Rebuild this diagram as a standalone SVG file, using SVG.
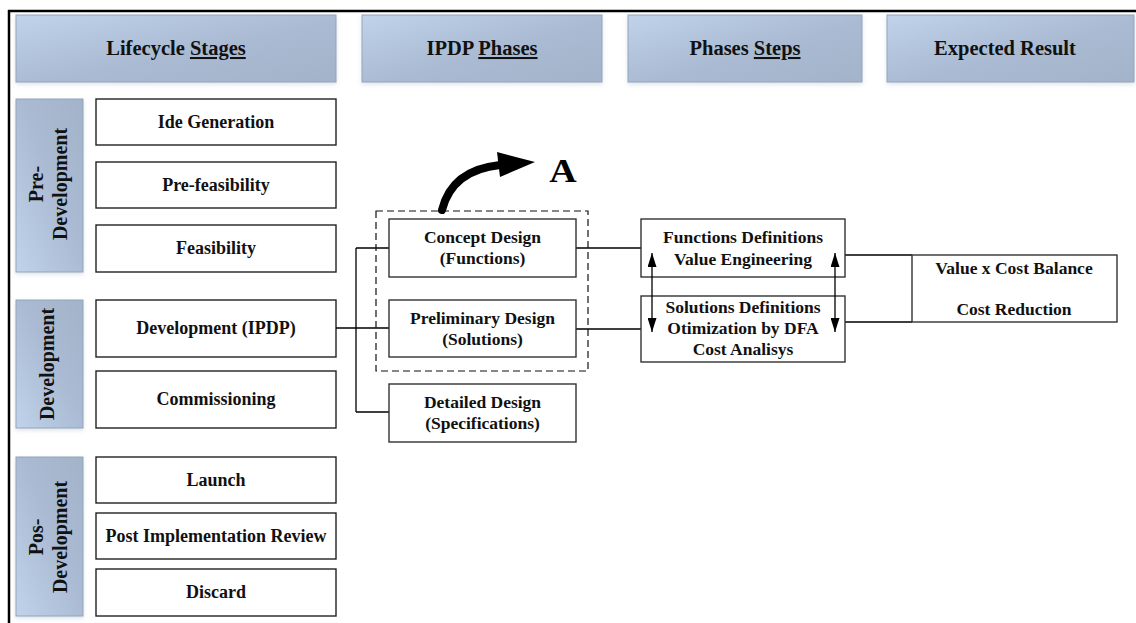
<svg xmlns="http://www.w3.org/2000/svg" width="1136" height="623" viewBox="0 0 1136 623">
  <defs>
    <linearGradient id="hdrFill" x1="0" y1="0" x2="1" y2="1">
      <stop offset="0" stop-color="#c0d3eb"/>
      <stop offset="0.55" stop-color="#a9bad2"/>
      <stop offset="1" stop-color="#a2b3ca"/>
    </linearGradient>
    <linearGradient id="sideFill" x1="0" y1="1" x2="1" y2="0">
      <stop offset="0" stop-color="#c0d3eb"/>
      <stop offset="0.55" stop-color="#a9bad2"/>
      <stop offset="1" stop-color="#a2b3ca"/>
    </linearGradient>
    <filter id="soft" x="-5%" y="-10%" width="110%" height="130%">
      <feDropShadow dx="0" dy="2" stdDeviation="2" flood-color="#7a8fb0" flood-opacity="0.25"/>
    </filter>
    <marker id="tri" viewBox="0 0 10 10" preserveAspectRatio="none" refX="10" refY="5" markerWidth="14" markerHeight="9" markerUnits="userSpaceOnUse" orient="auto-start-reverse">
      <path d="M0,0 L10,5 L0,10 Z" fill="#000"/>
    </marker>
  </defs>
  <style>
    text { font-family: "Liberation Serif", "Times New Roman", serif; font-weight: bold; fill: #111; text-anchor: middle; }
    .hdr { fill: url(#hdrFill); stroke: #93a5bd; stroke-width: 1; filter: url(#soft); }
    .side { fill: url(#sideFill); stroke: #93a5bd; stroke-width: 1; filter: url(#soft); }
    .box { fill: #fff; stroke: #222; stroke-width: 1.4; }
    .pbox { fill: #fff; stroke: #333; stroke-width: 1.4; }
    .h { font-size: 20.5px; }
    .s { font-size: 18px; }
    .sd { font-size: 20px; }
    .p { font-size: 17.5px; }
    .wire { fill: none; stroke: #000; stroke-width: 1.3; }
  </style>

  <rect width="1136" height="623" fill="#fff"/>

  <!-- outer frame -->
  <g id="frame" stroke="#000" stroke-width="2.5" fill="none">
    <line x1="8" y1="11" x2="1136" y2="11"/>
    <line x1="9" y1="10" x2="9" y2="623"/>
  </g>

  <!-- column headers -->
  <g id="hdr-stages">
    <rect class="hdr" x="16" y="15" width="320" height="67"/>
    <text class="h" x="176" y="55">Lifecycle <tspan text-decoration="underline">Stages</tspan></text>
  </g>
  <g id="hdr-phases">
    <rect class="hdr" x="362" y="15" width="240" height="67"/>
    <text class="h" x="482" y="55">IPDP <tspan text-decoration="underline">Phases</tspan></text>
  </g>
  <g id="hdr-steps">
    <rect class="hdr" x="628" y="15" width="234" height="67"/>
    <text class="h" x="745" y="55">Phases <tspan text-decoration="underline">Steps</tspan></text>
  </g>
  <g id="hdr-result">
    <rect class="hdr" x="887" y="15" width="247" height="67"/>
    <text class="h" x="1005" y="55">Expected Result</text>
  </g>

  <!-- lifecycle groups -->
  <g id="grp-pre">
    <rect class="side" x="16" y="99" width="67" height="173"/>
    <g transform="translate(49.5,184) rotate(-90)">
      <text class="sd" x="0" y="-6.5">Pre-</text>
      <text class="sd" x="0" y="17.5">Development</text>
    </g>
  </g>
  <g id="grp-dev">
    <rect class="side" x="16" y="300" width="67" height="128"/>
    <g transform="translate(49.5,364) rotate(-90)">
      <text class="sd" x="0" y="4">Development</text>
    </g>
  </g>
  <g id="grp-pos">
    <rect class="side" x="16" y="457" width="67" height="159"/>
    <g transform="translate(49.5,537) rotate(-90)">
      <text class="sd" x="0" y="-6.5">Pos-</text>
      <text class="sd" x="0" y="17.5">Development</text>
    </g>
  </g>

  <!-- lifecycle stages -->
  <g id="st-idea"><rect class="box" x="96" y="99" width="240" height="46"/><text class="s" x="216" y="128">Ide Generation</text></g>
  <g id="st-prefeas"><rect class="box" x="96" y="162" width="240" height="46"/><text class="s" x="216" y="191">Pre-feasibility</text></g>
  <g id="st-feas"><rect class="box" x="96" y="225" width="240" height="47"/><text class="s" x="216" y="254">Feasibility</text></g>
  <g id="st-dev"><rect class="box" x="96" y="300" width="240" height="57"/><text class="s" x="216" y="334">Development (IPDP)</text></g>
  <g id="st-comm"><rect class="box" x="96" y="371" width="240" height="57"/><text class="s" x="216" y="405">Commissioning</text></g>
  <g id="st-launch"><rect class="box" x="96" y="457" width="240" height="46"/><text class="s" x="216" y="486">Launch</text></g>
  <g id="st-review"><rect class="box" x="96" y="513" width="240" height="46"/><text class="s" x="216" y="542">Post Implementation Review</text></g>
  <g id="st-discard"><rect class="box" x="96" y="569" width="240" height="47"/><text class="s" x="216" y="598">Discard</text></g>

  <!-- connector wires (drawn under the boxes) -->
  <g id="connectors">
    <path class="wire" d="M336,328 H356 M356,248 V412 M356,248 H389 M356,328 H389 M356,412 H389"/>
    <path class="wire" d="M576,248 H641 M576,329 H641"/>
    <path class="wire" d="M845,255 H912 M845,322 H912"/>
    <!-- focus frame around the first two phases -->
    <rect x="376" y="211" width="212" height="160" fill="none" stroke="#111" stroke-width="1.2" stroke-dasharray="7,4"/>
    <!-- curved pointer to label A -->
    <path d="M442,210 Q452,170 500,165" fill="none" stroke="#000" stroke-width="8" stroke-linecap="round"/>
    <path d="M497,152 L535,162 L500,177 Z" fill="#000"/>
  </g>

  <text id="label-a" transform="translate(563,182) scale(1.15,1)" x="0" y="0" style="font-size:33px;fill:#000">A</text>

  <!-- IPDP phases -->
  <g id="ph-concept"><rect class="pbox" x="389" y="219" width="187" height="58"/><text class="p" x="482.5" y="243">Concept Design</text><text class="p" x="482.5" y="264">(Functions)</text></g>
  <g id="ph-prelim"><rect class="pbox" x="389" y="300" width="187" height="57"/><text class="p" x="482.5" y="324">Preliminary Design</text><text class="p" x="482.5" y="345">(Solutions)</text></g>
  <g id="ph-detail"><rect class="pbox" x="389" y="384" width="187" height="58"/><text class="p" x="482.5" y="408">Detailed Design</text><text class="p" x="482.5" y="429">(Specifications)</text></g>

  <!-- phase steps -->
  <g id="step-func"><rect class="pbox" x="641" y="219" width="204" height="58"/><text class="p" x="743" y="243">Functions Definitions</text><text class="p" x="743" y="265">Value Engineering</text></g>
  <g id="step-sol"><rect class="pbox" x="641" y="296" width="204" height="66"/><text class="p" x="743" y="313">Solutions Definitions</text><text class="p" x="743" y="334">Otimization by DFA</text><text class="p" x="743" y="355">Cost Analisys</text></g>

  <!-- expected result -->
  <g id="result"><rect class="pbox" x="912" y="255" width="205" height="67"/><text class="p" x="1014" y="274">Value x Cost Balance</text><text class="p" x="1014" y="315">Cost Reduction</text></g>

  <!-- two-way links between the phase steps, over the boxes -->
  <g id="step-links">
    <line class="wire" x1="652" y1="253" x2="652" y2="332" marker-start="url(#tri)" marker-end="url(#tri)"/>
    <line class="wire" x1="835" y1="253" x2="835" y2="332" marker-start="url(#tri)" marker-end="url(#tri)"/>
  </g>
</svg>
